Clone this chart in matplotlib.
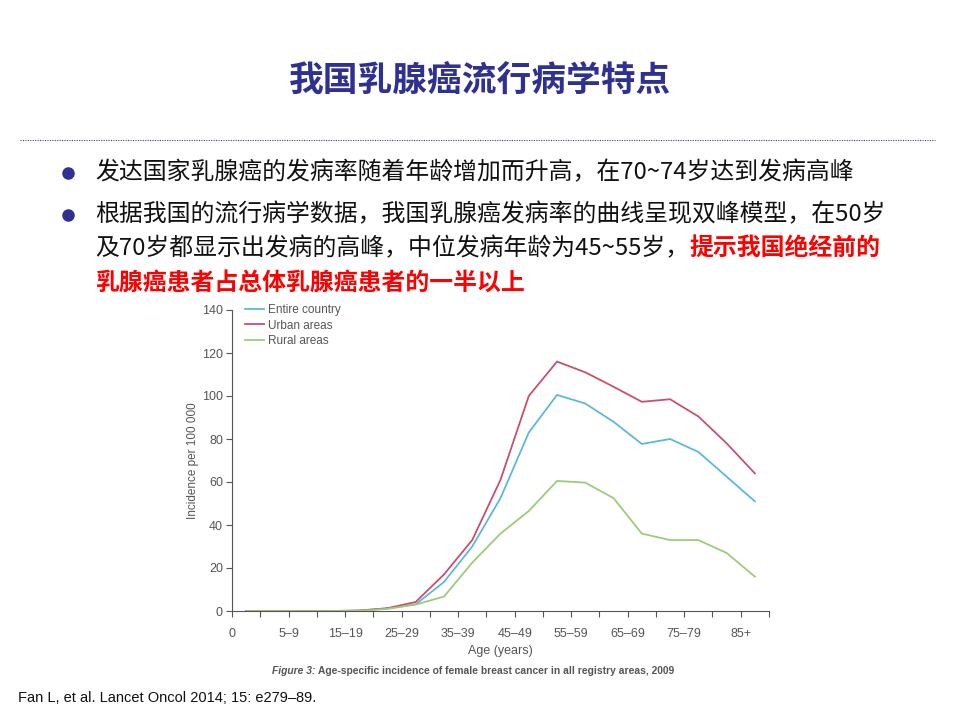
import matplotlib
matplotlib.use("Agg")
import matplotlib.pyplot as plt
from matplotlib.lines import Line2D
from matplotlib import font_manager

# ---------------- data ----------------
age_groups = ["0", "1–4", "5–9", "10–14", "15–19", "20–24", "25–29", "30–34", "35–39",
              "40–44", "45–49", "50–54", "55–59", "60–64", "65–69", "70–74", "75–79",
              "80–84", "85+"]
entire_country = [0, 0, 0, 0, 0.2, 1.2, 3.1, 13.5, 30, 52.5, 83, 100.5, 96.5, 88, 77.7,
                  80, 74, 62.5, 51]
urban_areas = [0, 0, 0, 0, 0.2, 1.3, 4.2, 17, 33, 61, 100, 116, 111, 104.3, 97.3,
               98.5, 90.5, 78, 64]
rural_areas = [0, 0, 0, 0, 0.1, 1.0, 3.0, 6.7, 22.5, 36, 46.5, 60.5, 59.7, 52.5, 36,
               33, 33, 27, 16]
series_names = ["Entire country", "Urban areas", "Rural areas"]
y_ticks = [0, 20, 40, 60, 80, 100, 120, 140]

title = "我国乳腺癌流行病学特点"
bullet1 = "发达国家乳腺癌的发病率随着年龄增加而升高，在70~74岁达到发病高峰"
bullet2_l1 = "根据我国的流行病学数据，我国乳腺癌发病率的曲线呈现双峰模型，在50岁"
bullet2_l2a = "及70岁都显示出发病的高峰，中位发病年龄为45~55岁，"
bullet2_l2b = "提示我国绝经前的"
bullet2_l3 = "乳腺癌患者占总体乳腺癌患者的一半以上"
caption_a = "Figure 3: "
caption_b = "Age-specific incidence of female breast cancer in all registry areas, 2009"
source = "Fan L, et al. Lancet Oncol 2014; 15: e279–89."

# ---------------- fonts ----------------
avail = {f.name for f in font_manager.fontManager.ttflist}
narrow = "Liberation Sans Narrow" if "Liberation Sans Narrow" in avail else "Liberation Sans"
CJK = ["Noto Sans CJK SC", "DejaVu Sans"]

W, H = 960, 720
fig = plt.figure(figsize=(9.6, 7.2), dpi=100)
fig.patch.set_facecolor("white")

def fx(x):
    return x / W

def fy(y):
    return 1 - y / H

# title
fig.text(fx(480), fy(80), title, ha="center", va="center", fontsize=25,
         fontweight="heavy", color="#2E3192", family=CJK)

# dotted separator
fig.add_artist(Line2D([fx(20), fx(935)], [fy(140), fy(140)], transform=fig.transFigure,
                      color="#3A3F7A", lw=0.8, linestyle=(0, (1, 1.2))))

# bullets
for yb in (173, 215):
    fig.add_artist(Line2D([fx(68)], [fy(yb)], transform=fig.transFigure,
                          marker="o", markersize=8, color="#2E3192", linestyle="none"))

body_fs = 17.2
fig.text(fx(95), fy(173), bullet1, ha="left", va="center", fontsize=body_fs,
         color="#111111", family=CJK)
fig.text(fx(95), fy(215), bullet2_l1, ha="left", va="center", fontsize=body_fs,
         color="#111111", family=CJK)
t2a = fig.text(fx(95), fy(249), bullet2_l2a, ha="left", va="center", fontsize=body_fs,
               color="#111111", family=CJK)
fig.canvas.draw()
bb = t2a.get_window_extent()
fig.text(bb.x1 / W, fy(249), bullet2_l2b, ha="left", va="center", fontsize=body_fs,
         color="#FF0000", fontweight="bold", family=CJK)
fig.text(fx(95), fy(283), bullet2_l3, ha="left", va="center", fontsize=body_fs,
         color="#FF0000", fontweight="bold", family=CJK)

# ---------------- chart ----------------
left, right, top, bottom = 232, 769, 310, 611
ax = fig.add_axes([fx(left), fy(bottom), (right - left) / W, (bottom - top) / H])
ax.set_facecolor("white")

xs = [i + 0.5 for i in range(len(age_groups))]
colors = ["#5DB9D6", "#C9506B", "#9DCB7C"]
for vals, name, c in zip([entire_country, urban_areas, rural_areas], series_names, colors):
    ax.plot(xs, vals, color=c, lw=1.3, label=name, solid_joinstyle="miter")

ax.set_xlim(0, len(age_groups))
ax.set_ylim(0, 140)
ax.set_yticks(y_ticks)
ax.set_xticks(range(len(age_groups) + 1))
xlabels = [age_groups[i] if i % 2 == 0 and i < len(age_groups) else "" for i in range(len(age_groups) + 1)]
ax.set_xticklabels(xlabels)
for s in ("top", "right"):
    ax.spines[s].set_visible(False)
for s in ("left", "bottom"):
    ax.spines[s].set_color("#555555")
    ax.spines[s].set_linewidth(0.8)
ax.tick_params(axis="both", direction="out", length=4.5, width=0.8, color="#555555",
               labelcolor="#555555", labelsize=9)
for lab in ax.get_xticklabels() + ax.get_yticklabels():
    lab.set_family(narrow)
ax.tick_params(axis="x", pad=8)
ax.tick_params(axis="y", pad=2)

ax.set_xlabel("Age (years)", fontsize=9, color="#555555", family=narrow, labelpad=3)
ax.set_ylabel("Incidence per 100 000", fontsize=8.5, color="#555555", family=narrow,
              labelpad=2)

leg = ax.legend(loc="upper left", bbox_to_anchor=(0.005, 1.055), frameon=False,
                handlelength=1.6, handletextpad=0.3, labelspacing=0.3,
                prop={"family": narrow, "size": 8.5})
for t in leg.get_texts():
    t.set_color("#555555")

# caption
cap_fs = 7.4
cap_a = fig.text(fx(272), fy(671), caption_a, ha="left", va="center", fontsize=cap_fs,
                 color="#555555", fontweight="bold", style="italic", family=narrow)
fig.canvas.draw()
bb = cap_a.get_window_extent()
fig.text(bb.x1 / W, fy(671), caption_b, ha="left", va="center", fontsize=cap_fs,
         color="#555555", fontweight="bold", family=narrow)

# source
fig.text(fx(18), fy(698), source, ha="left", va="center", fontsize=10.5,
         color="#111111", family="Liberation Sans")

fig.savefig("out.png", dpi=100, facecolor="white")
